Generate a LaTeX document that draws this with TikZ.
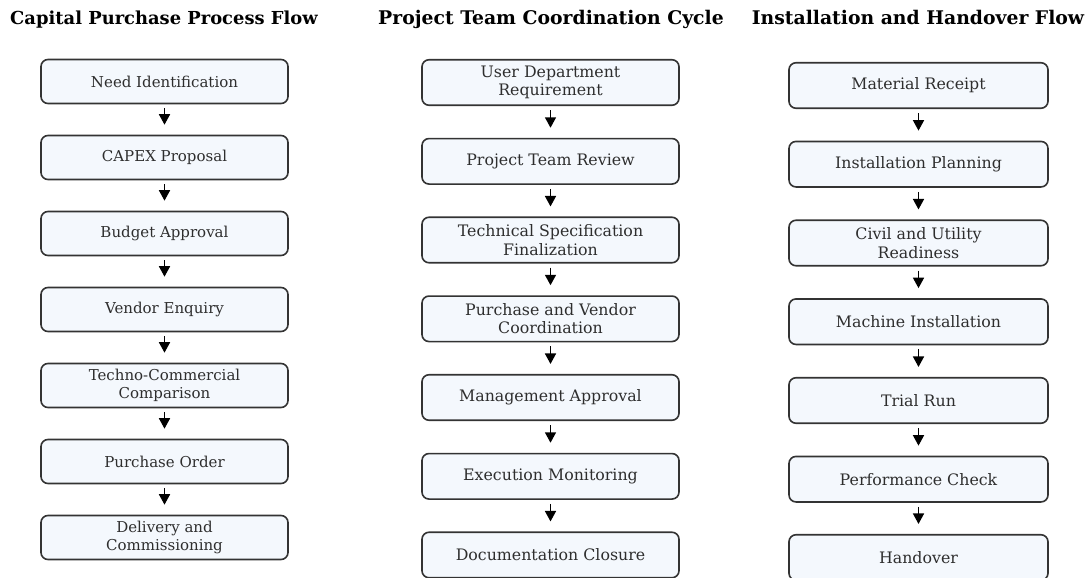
\documentclass[tikz,border=0pt]{standalone}
\usepackage{fontspec}
\setmainfont{DejaVu Serif}
\usetikzlibrary{arrows.meta}
\definecolor{boxfill}{HTML}{F4F8FD}
\definecolor{boxline}{HTML}{333333}
\definecolor{boxtext}{HTML}{2E2E2E}
\tikzset{
  flowbox/.style={draw=boxline, line width=1.6pt, fill=boxfill, rounded corners=7pt,
    align=center, inner sep=0pt, text=boxtext},
  colA/.style={flowbox, minimum width=247pt, minimum height=44pt,
    font=\fontsize{15}{17.5}\selectfont},
  colB/.style={flowbox, minimum width=257pt, minimum height=45.5pt,
    font=\fontsize{15.8}{18.3}\selectfont},
  colC/.style={flowbox, minimum width=259pt, minimum height=45.5pt,
    font=\fontsize{15.8}{18.3}\selectfont},
  heading/.style={inner sep=0pt, anchor=base},
  headA/.style={heading, font=\fontsize{17.9}{20}\selectfont\bfseries},
  headB/.style={heading, font=\fontsize{18.8}{21}\selectfont\bfseries},
  flowarrow/.style={draw=black, line width=1.6pt,
    -{Triangle[length=10.5pt,width=11pt]}, shorten <=4pt, shorten >=10pt}
}
\begin{document}
\begin{tikzpicture}[x=1pt, y=-1pt]
\useasboundingbox (0,0) rectangle (1090,578);

% headings
\node[headA] (tA) at (164,25) {Capital Purchase Process Flow};
\node[headB] (tB) at (551,25) {Project Team Coordination Cycle};
\node[headB] (tC) at (918,25) {Installation and Handover Flow};

% capital purchase column
\node[colA] (a1) at (164.5,81.5)  {Need Identification};
\node[colA] (a2) at (164.5,157.5) {CAPEX Proposal};
\node[colA] (a3) at (164.5,233.5) {Budget Approval};
\node[colA] (a4) at (164.5,309.5) {Vendor Enquiry};
\node[colA] (a5) at (164.5,385.5) {Techno-Commercial\\Comparison};
\node[colA] (a6) at (164.5,461.5) {Purchase Order};
\node[colA] (a7) at (164.5,537.5) {Delivery and\\Commissioning};

% project team column
\node[colB] (b1) at (550.5,82.5)  {User Department\\Requirement};
\node[colB] (b2) at (550.5,161.3) {Project Team Review};
\node[colB] (b3) at (550.5,240)   {Technical Specification\\Finalization};
\node[colB] (b4) at (550.5,318.8) {Purchase and Vendor\\Coordination};
\node[colB] (b5) at (550.5,397.5) {Management Approval};
\node[colB] (b6) at (550.5,476.3) {Execution Monitoring};
\node[colB] (b7) at (550.5,555)   {Documentation Closure};

% installation column
\node[colC] (c1) at (918.5,85.5)  {Material Receipt};
\node[colC] (c2) at (918.5,164.2) {Installation Planning};
\node[colC] (c3) at (918.5,243)   {Civil and Utility\\Readiness};
\node[colC] (c4) at (918.5,321.7) {Machine Installation};
\node[colC] (c5) at (918.5,400.5) {Trial Run};
\node[colC] (c6) at (918.5,479.2) {Performance Check};
\node[colC] (c7) at (918.5,557.5) {Handover};

\foreach \col in {a,b,c}{
  \foreach \i [evaluate=\i as \j using int(\i+1)] in {1,...,6}{
    \draw[flowarrow] (\col\i.south) -- (\col\j.north);
  }
}
\end{tikzpicture}
\end{document}
